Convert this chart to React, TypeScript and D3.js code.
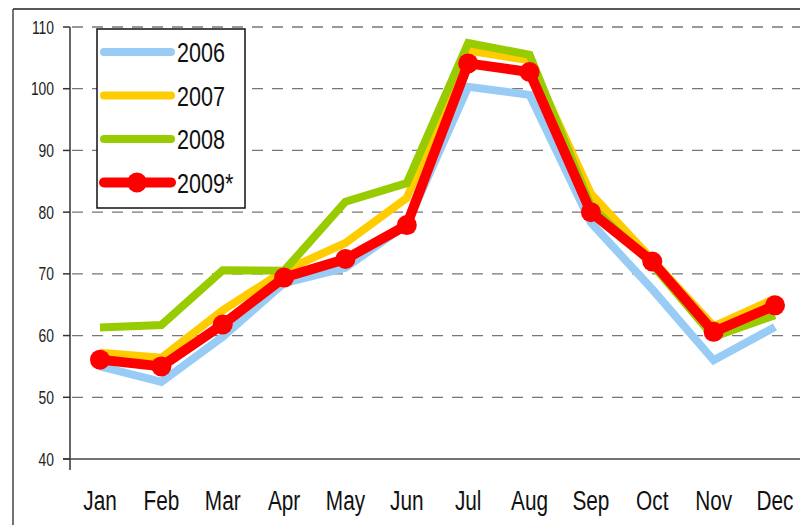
import React from "react";
import * as d3 from "d3";

const months = ["Jan", "Feb", "Mar", "Apr", "May", "Jun", "Jul", "Aug", "Sep", "Oct", "Nov", "Dec"];
const yTicks = [40, 50, 60, 70, 80, 90, 100, 110];
const s2006 = [55, 52.5, 59.8, 68.5, 71, 78, 100.3, 99, 78.3, 67.5, 56, 61.4];
const s2007 = [57.2, 56.4, 64.1, 70.5, 75, 82.3, 106.2, 104.6, 83, 72.3, 61.5, 66];
const s2008 = [61.3, 61.7, 70.6, 70.5, 81.7, 84.7, 107.4, 105.5, 81, 71.5, 59.8, 63.3];
const s2009 = [56.1, 55, 61.8, 69.4, 72.4, 77.9, 104.1, 102.7, 80, 72, 60.6, 64.9];
const seriesNames = ["2006", "2007", "2008", "2009*"];
const seriesColors = ["#99CCF5", "#FFCC00", "#99CC00", "#FF0000"];

const W = 800;
const H = 525;
const SX = 0.77;

export default function App() {
  const x = d3.scalePoint<string>().domain(months).range([100, 775]);
  const y = d3.scaleLinear().domain([40, 110]).range([459, 27]);
  const line = d3
    .line<number>()
    .x((_, i) => x(months[i]) as number)
    .y((d) => y(d));
  const all = [s2006, s2007, s2008, s2009];
  const widths = [8, 8, 8, 10];

  return (
    <svg
      width={W}
      height={H}
      style={{ position: "absolute", left: 0, top: 0, background: "#fff" }}
      fontFamily="'Liberation Sans', Arial, sans-serif"
    >
      <rect x={0} y={0} width={W} height={H} fill="#fff" />
      {/* outer frame */}
      <line x1={13} y1={9} x2={W} y2={9} stroke="#222" strokeWidth={1.5} />
      <line x1={13} y1={9} x2={13} y2={H} stroke="#444" strokeWidth={1.5} />
      {/* grid */}
      {yTicks
        .filter((t) => t > 40)
        .map((t) => (
          <line
            key={"g" + t}
            x1={72}
            x2={W}
            y1={y(t)}
            y2={y(t)}
            stroke="#777"
            strokeWidth={1.3}
            strokeDasharray="11,9"
          />
        ))}
      {/* axes */}
      <line x1={70} y1={y(110)} x2={70} y2={470} stroke="#333" strokeWidth={1.5} />
      <line x1={63} y1={y(40)} x2={W} y2={y(40)} stroke="#444" strokeWidth={1.5} />
      {yTicks.map((t) => (
        <g key={"t" + t}>
          <line x1={63} x2={70} y1={y(t)} y2={y(t)} stroke="#333" strokeWidth={1.5} />
          <text
            transform={`translate(54,${y(t) + 6.5}) scale(${SX},1)`}
            textAnchor="end"
            fontSize={18}
            fill="#222"
          >
            {t}
          </text>
        </g>
      ))}
      {months.map((m) => (
        <text
          key={m}
          transform={`translate(${x(m)},510) scale(${SX},1)`}
          textAnchor="middle"
          fontSize={27}
          fill="#111"
        >
          {m}
        </text>
      ))}
      {/* series */}
      {all.map((s, k) => (
        <path
          key={"s" + k}
          d={line(s) || ""}
          fill="none"
          stroke={seriesColors[k]}
          strokeWidth={widths[k]}
          strokeLinejoin="miter"
        />
      ))}
      {s2009.map((v, i) => (
        <circle key={"c" + i} cx={x(months[i])} cy={y(v)} r={10} fill={seriesColors[3]} />
      ))}
      {/* legend */}
      <rect x={97} y={29} width={148} height={179} fill="#fff" stroke="#111" strokeWidth={1.5} />
      {seriesNames.map((n, k) => {
        const cy = 52 + k * 43.5;
        return (
          <g key={n}>
            <line
              x1={104}
              x2={171}
              y1={cy}
              y2={cy}
              stroke={seriesColors[k]}
              strokeWidth={widths[k]}
              strokeLinecap="round"
            />
            {k === 3 && <circle cx={137} cy={cy} r={10} fill={seriesColors[3]} />}
            <text
              transform={`translate(177,${cy + 10}) scale(${SX},1)`}
              fontSize={28}
              fill="#111"
            >
              {n}
            </text>
          </g>
        );
      })}
    </svg>
  );
}
